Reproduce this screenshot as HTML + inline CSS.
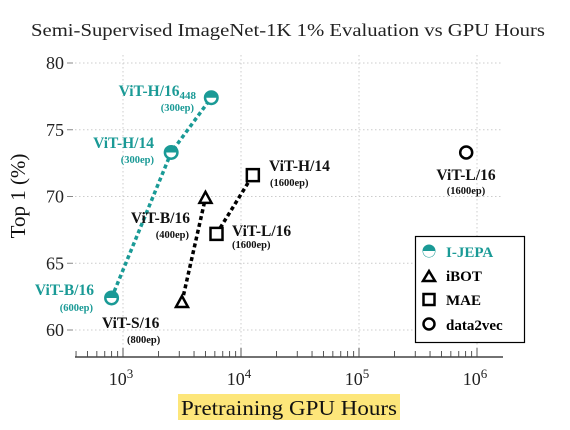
<!DOCTYPE html>
<html><head><meta charset="utf-8"><style>
body{margin:0;background:#fff}
svg{display:block;font-family:"Liberation Serif",serif}
</style></head><body>
<svg id="chart" width="570" height="430" viewBox="0 0 570 430" xmlns="http://www.w3.org/2000/svg">
<text x="31" y="36" textLength="514" lengthAdjust="spacingAndGlyphs" font-size="18" fill="#222">Semi-Supervised ImageNet-1K 1% Evaluation vs GPU Hours</text>
<g id="grid"></g><g id="axes"></g><g id="series"></g><g id="labels"></g>
<rect x="178" y="394" width="222" height="26" fill="#fde67a"/>
<text x="181" y="415" textLength="216" lengthAdjust="spacingAndGlyphs" font-size="21" fill="#111">Pretraining GPU Hours</text>
<text transform="translate(25,196) rotate(-90)" text-anchor="middle" font-size="21" fill="#111">Top 1 (%)</text>
<g>
<rect x="415.5" y="236.5" width="109" height="106" fill="#fff" stroke="#000" stroke-width="1.2"/>
<circle cx="429" cy="251" r="6.5" fill="#1a9a96"/><path d="M423 251 A6 6 0 0 0 435 251 Z" fill="#fff"/>
<text x="446" y="257" font-size="15" font-weight="bold" fill="#1a9a96">I-JEPA</text>
<path d="M423 281 L429 271 L435 281 Z" fill="none" stroke="#000" stroke-width="2.5"/>
<text x="446" y="281" font-size="15" font-weight="bold">iBOT</text>
<rect x="423.5" y="294" width="11" height="11" fill="none" stroke="#000" stroke-width="2.5"/>
<text x="446" y="305" font-size="15" font-weight="bold">MAE</text>
<circle cx="429" cy="324" r="5.5" fill="none" stroke="#000" stroke-width="2.5"/>
<text x="446" y="330" font-size="15" font-weight="bold">data2vec</text>
</g>
</svg>
<script>
const ijepaX=[800,2560,5600];const ijepaY=[62.4,73.3,77.4];
const ibotX=[3160,5000];const ibotY=[62.1,69.9];
const maeX=[6200,12600];const maeY=[67.2,71.6];
const d2vX=[810000];const d2vY=[73.3];
const yTicks=[60,65,70,75,80];const xDecades=[3,4,5,6];
const NS="http://www.w3.org/2000/svg";
function xs(v){return 123+(Math.log10(v)-3)*118;}
function ys(v){return 330-(v-60)*13.35;}
function mk(tag,attrs,parent){const e=document.createElementNS(NS,tag);for(const k in attrs)e.setAttribute(k,attrs[k]);document.getElementById(parent).appendChild(e);return e;}
yTicks.forEach(t=>{const y=ys(t);
 const g=mk('line',{x1:75,x2:t===65?418:503,y1:y,y2:y,stroke:'#ccc','stroke-dasharray':'1.5 2.5'},'grid');
 
 
 const tk=mk('line',{x1:67,x2:73,y1:y,y2:y,stroke:'#888'},'axes');
 
 
 const l=mk('text',{x:64,y:y+6,'text-anchor':'end','font-size':18,fill:'#222'},'axes');l.textContent=t;
 
 });
xDecades.forEach(d=>{const x=xs(Math.pow(10,d));
 const g=mk('line',{x1:x,x2:x,y1:55,y2:357,stroke:'#ccc','stroke-dasharray':'1.5 2.5'},'grid');
 
 
 const l=mk('text',{x:x-2,y:385,'text-anchor':'middle','font-size':18,fill:'#222'},'axes');l.innerHTML='10<tspan dy="-7" font-size="13">'+d+'</tspan>';
 
 });
for(let d=2;d<=6;d++)for(let m=1;m<10;m++){const v=m*Math.pow(10,d);const x=xs(v);if(x<76||x>503)continue;
 const t=mk('line',{x1:x,x2:x,y1:m===1?348:351,y2:357,stroke:'#555','stroke-width':1},'axes');
 
 }
const ax=mk('line',{x1:75,x2:503,y1:357,y2:357,stroke:'#444','stroke-width':1.5},'axes');


function line(X,Y,col,name){const p=mk('polyline',{points:X.map((v,i)=>xs(v)+','+ys(Y[i])).join(' '),fill:'none',stroke:col,'stroke-width':3.5,'stroke-dasharray':'4 3'},'series');
 
 }
line(ijepaX,ijepaY,'#1a9a96','ijepa-line');line(ibotX,ibotY,'#000','ibot-line');line(maeX,maeY,'#000','mae-line');
ijepaX.forEach((v,i)=>{const x=xs(v),y=ys(ijepaY[i]);
 const c=mk('circle',{cx:x,cy:y,r:7.5,fill:'#1a9a96'},'series');
 
 
 mk('path',{d:`M${x-5} ${y} A5 5 0 0 0 ${x+5} ${y} Z`,fill:'#fff'},'series');});
ibotX.forEach((v,i)=>{const x=xs(v),y=ys(ibotY[i]);
 const p=mk('path',{d:`M${x-6} ${y+5} L${x} ${y-6} L${x+6} ${y+5} Z`,fill:'#fff',stroke:'#000','stroke-width':2.5},'series');
 
 });
maeX.forEach((v,i)=>{const x=xs(v),y=ys(maeY[i]);
 const p=mk('rect',{x:x-6,y:y-6,width:12,height:12,fill:'#fff',stroke:'#000','stroke-width':2.5},'series');
 
 });
d2vX.forEach((v,i)=>{const p=mk('circle',{cx:xs(v),cy:ys(d2vY[i]),r:6,fill:'#fff',stroke:'#000','stroke-width':2.5},'series');
 
 });
const labs=[
 [196,96,'end','#1a9a96',15.5,'ViT-H/16<tspan font-size="11" dy="3">448</tspan>','label-vith16-448'],
 [194,111,'end','#1a9a96',10.5,'(300ep)','label-vith16-448-ep'],
 [154,148,'end','#1a9a96',15.5,'ViT-H/14','label-vith14'],
 [154,163,'end','#1a9a96',10.5,'(300ep)','label-vith14-ep'],
 [94,295,'end','#1a9a96',15.5,'ViT-B/16','label-ijepa-vitb16'],
 [93,311,'end','#1a9a96',10.5,'(600ep)','label-ijepa-vitb16-ep'],
 [190,223,'end','#111',15.5,'ViT-B/16','label-ibot-vitb16'],
 [189,238,'end','#111',10.5,'(400ep)','label-ibot-vitb16-ep'],
 [102,328,'start','#111',15.5,'ViT-S/16','label-vits16'],
 [127,343,'start','#111',10.5,'(800ep)','label-vits16-ep'],
 [232,236,'start','#111',15.5,'ViT-L/16','label-mae-vitl16'],
 [232,248,'start','#111',10.5,'(1600ep)','label-mae-vitl16-ep'],
 [269,171,'start','#111',15.5,'ViT-H/14','label-mae-vith14'],
 [270,186,'start','#111',10.5,'(1600ep)','label-mae-vith14-ep'],
 [466,180,'middle','#111',15.5,'ViT-L/16','label-d2v-vitl16'],
 [466,194,'middle','#111',10.5,'(1600ep)','label-d2v-vitl16-ep']];
labs.forEach(l=>{const t=mk('text',{x:l[0],y:l[1],'text-anchor':l[2],fill:l[3],'font-size':l[4],'font-weight':'bold'},'labels');t.innerHTML=l[5];
 
 });
</script>
</body></html>
